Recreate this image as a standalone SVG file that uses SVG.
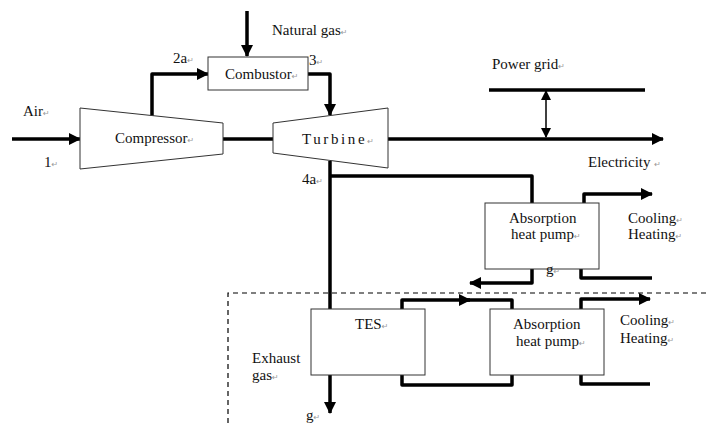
<svg xmlns="http://www.w3.org/2000/svg" width="710" height="423" viewBox="0 0 710 423">
<defs>
<marker id="ah" markerUnits="userSpaceOnUse" markerWidth="12" markerHeight="12" refX="11" refY="6" orient="auto">
<path d="M0,0 L12,6 L0,12 Z" fill="#000"/>
</marker>
<marker id="ahs" markerUnits="userSpaceOnUse" markerWidth="10" markerHeight="10" refX="9" refY="5" orient="auto-start-reverse">
<path d="M0,0 L10,5 L0,10 Z" fill="#000"/>
</marker>
<style>
text{font-family:'Liberation Serif','Times New Roman','DejaVu Serif',serif;font-size:15px;fill:#111}
.pm{font-family:'DejaVu Sans',sans-serif;font-size:8px;fill:#999}
.box{fill:#fff;stroke:#333;stroke-width:1}
.fl{fill:none;stroke:#000;stroke-width:3.5;stroke-linejoin:round}
.th{fill:none;stroke:#000;stroke-width:1.5}
.dash{fill:none;stroke:#000;stroke-width:1.2;stroke-dasharray:5,4}
</style>
</defs>
<rect width="710" height="423" fill="#fff"/>

<g id="connectors">
<line class="fl" x1="247" y1="11" x2="247" y2="56" marker-end="url(#ah)"/>
<polyline class="fl" points="152,116 152,74 208,74" marker-end="url(#ah)"/>
<polyline class="fl" points="308,74 330,74 330,115" marker-end="url(#ah)"/>
<line class="fl" x1="12" y1="139" x2="80" y2="139" marker-end="url(#ah)"/>
<line class="fl" x1="223" y1="139" x2="273" y2="139"/>
<line class="fl" x1="388" y1="139" x2="663" y2="139" marker-end="url(#ah)"/>
<line class="fl" x1="489" y1="90" x2="645" y2="90"/>
<line class="th" x1="546" y1="91" x2="546" y2="137" marker-start="url(#ahs)" marker-end="url(#ahs)"/>
<line class="fl" x1="330" y1="161" x2="330" y2="309"/>
<polyline class="fl" points="330,176 532,176 532,203"/>
<polyline class="fl" points="584,203 584,194 652,194" marker-end="url(#ah)"/>
<polyline class="fl" points="581,269 581,278 652,278"/>
<polyline class="fl" points="532,269 532,283 470,283" marker-end="url(#ah)"/>
<line class="fl" x1="330" y1="375" x2="330" y2="413" marker-end="url(#ah)"/>
<polyline class="fl" points="402,309 402,300 470,300" marker-end="url(#ah)"/>
<polyline class="fl" points="465,300 512,300 512,309"/>
<polyline class="fl" points="402,375 402,385 512,385 512,375"/>
<polyline class="fl" points="581,309 581,299 650,299" marker-end="url(#ah)"/>
<polyline class="fl" points="581,375 581,384 650,384"/>
<polyline class="dash" points="228,423 228,293 710,293"/>
</g>

<g id="combustor">
<rect class="box" x="208" y="57" width="100" height="33"/>
<text x="225" y="79">Combustor<tspan class="pm">↵</tspan></text>
</g>
<g id="compressor">
<polygon class="box" points="80,108 223,123 223,154 80,169"/>
<text x="115" y="143">Compressor<tspan class="pm">↵</tspan></text>
</g>
<g id="turbine">
<polygon class="box" points="273,123 388,108 388,168 273,153"/>
<text x="302" y="144" letter-spacing="2.6">Turbine<tspan class="pm" letter-spacing="0">↵</tspan></text>
</g>
<g id="absorption1">
<rect class="box" x="485" y="203" width="114" height="66"/>
<text x="509" y="223">Absorption</text>
<text x="511" y="239">heat pump<tspan class="pm">↵</tspan></text>
</g>
<g id="tes">
<rect class="box" x="311" y="309" width="114" height="66"/>
<text x="355" y="329">TES<tspan class="pm">↵</tspan></text>
</g>
<g id="absorption2">
<rect class="box" x="490" y="309" width="114" height="66"/>
<text x="513" y="329">Absorption</text>
<text x="516" y="346">heat pump<tspan class="pm">↵</tspan></text>
</g>

<g id="labels">
<text x="272" y="35">Natural gas<tspan class="pm">↵</tspan></text>
<text x="173" y="63">2a<tspan class="pm">↵</tspan></text>
<text x="309" y="65">3<tspan class="pm">↵</tspan></text>
<text x="23" y="116">Air<tspan class="pm">↵</tspan></text>
<text x="44" y="167">1<tspan class="pm">↵</tspan></text>
<text x="492" y="69">Power grid<tspan class="pm">↵</tspan></text>
<text x="588" y="167">Electricity <tspan class="pm">↵</tspan></text>
<text x="302" y="184">4a<tspan class="pm">↵</tspan></text>
<text x="628" y="223">Cooling<tspan class="pm">↵</tspan></text>
<text x="628" y="239">Heating<tspan class="pm">↵</tspan></text>
<text x="546" y="274">g<tspan class="pm">↵</tspan></text>
<text x="620" y="325">Cooling<tspan class="pm">↵</tspan></text>
<text x="620" y="343">Heating<tspan class="pm">↵</tspan></text>
<text x="252" y="363">Exhaust</text>
<text x="252" y="380">gas<tspan class="pm">↵</tspan></text>
<text x="306" y="420">g<tspan class="pm">↵</tspan></text>
</g>
</svg>
